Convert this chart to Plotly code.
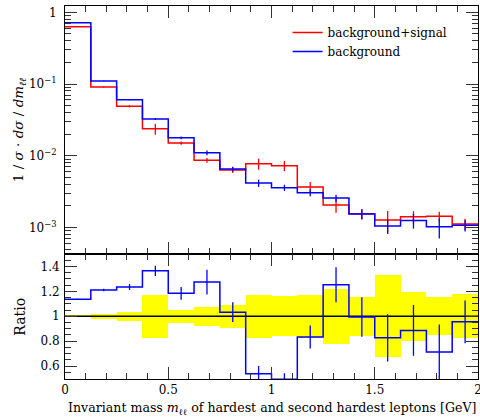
import plotly.graph_objects as go
import numpy as np

# ---- data ----
bin_edges = [0.0, 0.125, 0.25, 0.375, 0.5, 0.625, 0.75, 0.875, 1.0,
             1.125, 1.25, 1.375, 1.5, 1.625, 1.75, 1.875, 2.0]
bkg_sig = [0.63, 0.0908, 0.0489, 0.0238, 0.01503, 0.00863, 0.00631, 0.00773,
           0.00726, 0.00366, 0.00205, 0.00155, 0.00127, 0.00141, 0.00143, 0.00112]
bkg = [0.716, 0.110, 0.0604, 0.0325, 0.0178, 0.0110, 0.00652, 0.00416,
       0.00358, 0.00305, 0.00257, 0.00154, 0.00105, 0.00125, 0.00102, 0.00107]
bkg_sig_relerr = [0.004, 0.019, 0.035, 0.174, 0.052, 0.076, 0.091, 0.174,
                  0.16, 0.173, 0.22, 0.158, 0.33, 0.197, 0.153, 0.178]
bkg_relerr = [0.003, 0.008, 0.02, 0.03, 0.043, 0.078, 0.077, 0.117,
              0.1, 0.11, 0.112, 0.16, 0.23, 0.23, 0.31, 0.18]

top_tickvals = [1, 0.1, 0.01, 0.001]
top_ticktext = ["1", "10<sup>\u22121</sup>", "10<sup>\u22122</sup>", "10<sup>\u22123</sup>"]
ratio_tickvals = [0.6, 0.8, 1.0, 1.2, 1.4]
ratio_ticktext = ["0.6", "0.8", "1", "1.2", "1.4"]
x_tickvals = [0, 0.5, 1, 1.5, 2]
x_ticktext = ["0", "0.5", "1", "1.5", "2"]

# ---- derived ----
edges = np.array(bin_edges)
centers = 0.5 * (edges[:-1] + edges[1:])
widths = np.diff(edges)
red = np.array(bkg_sig)
blue = np.array(bkg)
red_err = red * np.array(bkg_sig_relerr)
blue_err = blue * np.array(bkg_relerr)
ratio = blue / red
ratio_err = blue_err / red
band = np.array(bkg_sig_relerr)

RED = "#ff0000"
BLUE = "#0000ff"
FONT = "DejaVu Serif"

def step_y(v):
    return list(v) + [v[-1]]

fig = go.Figure()

# top panel
fig.add_trace(go.Scatter(x=edges, y=step_y(red), mode="lines", line=dict(color=RED, width=1.5, shape="hv"),
                         name="background+signal", xaxis="x", yaxis="y"))
fig.add_trace(go.Scatter(x=edges, y=step_y(blue), mode="lines", line=dict(color=BLUE, width=1.5, shape="hv"),
                         name="background", xaxis="x", yaxis="y"))
fig.add_trace(go.Scatter(x=centers, y=red, mode="markers", marker=dict(size=0.1, color=RED, opacity=0),
                         error_y=dict(type="data", array=red_err, arrayminus=red_err, color=RED, thickness=1.3, width=0),
                         showlegend=False, xaxis="x", yaxis="y", hoverinfo="skip"))
fig.add_trace(go.Scatter(x=centers, y=blue, mode="markers", marker=dict(size=0.1, color=BLUE, opacity=0),
                         error_y=dict(type="data", array=blue_err, arrayminus=blue_err, color=BLUE, thickness=1.3, width=0),
                         showlegend=False, xaxis="x", yaxis="y", hoverinfo="skip"))

# ratio panel
fig.add_trace(go.Bar(x=centers, y=2 * band, base=1 - band, width=widths,
                     marker=dict(color="#ffff00", line=dict(width=0)),
                     showlegend=False, xaxis="x2", yaxis="y2", hoverinfo="skip"))
fig.add_trace(go.Scatter(x=[0, 2], y=[1, 1], mode="lines", line=dict(color="black", width=1.5),
                         showlegend=False, xaxis="x2", yaxis="y2", hoverinfo="skip"))
fig.add_trace(go.Scatter(x=edges, y=step_y(ratio), mode="lines", line=dict(color=BLUE, width=1.5, shape="hv"),
                         showlegend=False, xaxis="x2", yaxis="y2"))
fig.add_trace(go.Scatter(x=centers, y=ratio, mode="markers", marker=dict(size=0.1, color=BLUE, opacity=0),
                         error_y=dict(type="data", array=ratio_err, arrayminus=ratio_err, color=BLUE, thickness=1.3, width=0),
                         showlegend=False, xaxis="x2", yaxis="y2", hoverinfo="skip"))

minor_log = [k * 10.0 ** n for n in range(-4, 1) for k in range(2, 10)]

tickfont = dict(family=FONT, size=12, color="black")
axis_common = dict(showline=True, linecolor="black", linewidth=1, mirror="allticks",
                   ticks="inside", ticklen=12, tickcolor="#333", tickwidth=1,
                   showgrid=False, zeroline=False, automargin=False, tickfont=tickfont,
                   ticklabeloverflow="allow")

split = 0.335
fig.update_layout(
    width=480, height=417,
    margin=dict(l=65, r=2, t=6, b=38, autoexpand=False),
    plot_bgcolor="white", paper_bgcolor="white",
    font=dict(family=FONT, size=12, color="black"),
    barmode="overlay", bargap=0,
    showlegend=True,
    legend=dict(x=0.539, y=0.968, xanchor="left", yanchor="top", bgcolor="rgba(0,0,0,0)",
                font=dict(family=FONT, size=12), tracegroupgap=0),
    xaxis=dict(domain=[0, 1], range=[0, 2], anchor="y", showticklabels=False,
               tickvals=x_tickvals, minor=dict(ticks="inside", ticklen=6, dtick=0.1, tick0=0, tickcolor="#333"),
               **axis_common),
    yaxis=dict(domain=[split, 1], type="log", range=[-3.371, 0.088], anchor="x",
               tickvals=top_tickvals, ticktext=top_ticktext, ticklabelstandoff=5,
               minor=dict(ticks="inside", ticklen=6, tickvals=minor_log, tickcolor="#333"),
               **axis_common),
    xaxis2=dict(domain=[0, 1], range=[0, 2], anchor="y2",
                tickvals=x_tickvals, ticktext=x_ticktext,
                minor=dict(ticks="inside", ticklen=6, dtick=0.1, tick0=0, tickcolor="#333"),
                **axis_common),
    yaxis2=dict(domain=[0, split], range=[0.496, 1.5], anchor="x2",
                tickvals=ratio_tickvals, ticktext=ratio_ticktext, ticklabelstandoff=2,
                minor=dict(ticks="inside", ticklen=6, dtick=0.05, tick0=0, tickcolor="#333"),
                **axis_common),
    annotations=[
        dict(text="1 / <i>\u03c3</i> \u00b7 <i>d\u03c3</i> / <i>dm</i><sub><i>\u2113\u2113</i></sub>",
             xref="paper", yref="paper", x=-0.111, y=(split + 1) / 2, textangle=-90,
             showarrow=False, xanchor="center", yanchor="middle", font=dict(size=13.5)),
        dict(text="Ratio", xref="paper", yref="paper", x=-0.111, y=split / 2, textangle=-90,
             showarrow=False, xanchor="center", yanchor="middle", font=dict(size=14)),
        dict(text="Invariant mass <i>m</i><sub>\u2113\u2113</sub> of hardest and second hardest leptons [GeV]",
             xref="paper", yref="paper", x=0.5, y=-0.078, showarrow=False,
             xanchor="center", yanchor="middle", font=dict(size=12.6)),
    ],
)

fig.write_html("out.html", config={"displayModeBar": False},
               post_script="document.body.style.margin='0';document.body.style.overflow='hidden';")
